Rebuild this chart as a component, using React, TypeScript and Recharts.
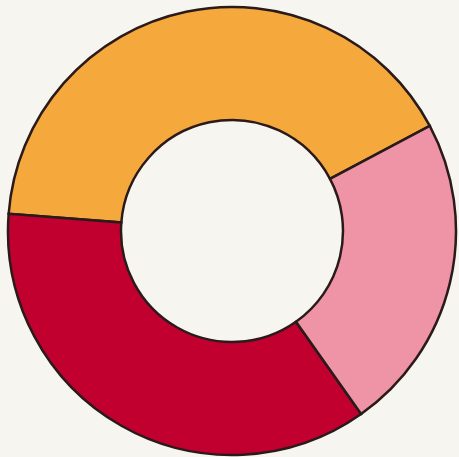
import { PieChart, Pie, Cell } from 'recharts';

// Slice shares in percent (counter-clockwise from the upper-right cut)
const categories = ['Orange', 'Crimson', 'Pink'];
const values = [41, 36, 23];
const colors = ['#F5A93C', '#C10030', '#EF94A6'];

const data = categories.map((name, i) => ({ name, value: values[i] }));

export default function App() {
  return (
    <div
      style={{
        position: 'absolute',
        top: 0,
        left: 0,
        width: 459,
        height: 457,
        background: '#F7F5F0',
      }}
    >
      <PieChart width={459} height={457} margin={{ top: 0, right: 0, bottom: 0, left: 0 }}>
        <Pie
          data={data}
          dataKey="value"
          nameKey="name"
          cx={232}
          cy={231}
          innerRadius={111}
          outerRadius={224}
          startAngle={28}
          endAngle={388}
          stroke="#2a1a1a"
          strokeWidth={2.5}
          isAnimationActive={false}
        >
          {data.map((d, i) => (
            <Cell key={d.name} fill={colors[i]} />
          ))}
        </Pie>
      </PieChart>
    </div>
  );
}
